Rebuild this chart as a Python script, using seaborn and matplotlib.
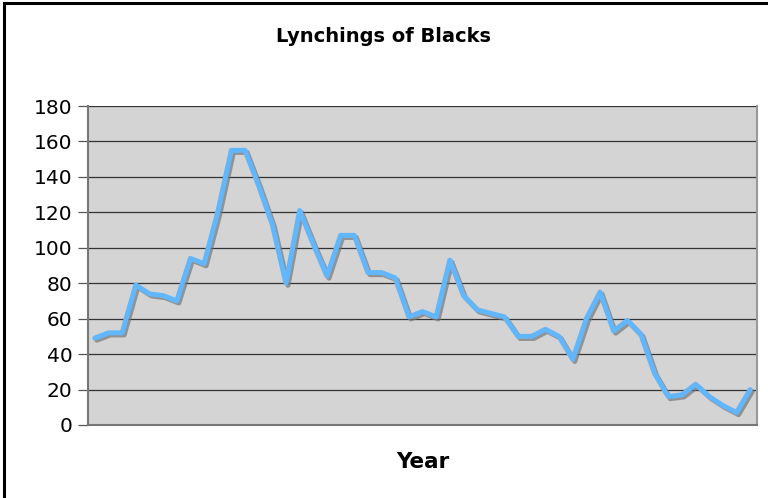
import pandas as pd
import seaborn as sns
import matplotlib.pyplot as plt
import matplotlib.patheffects as pe
from matplotlib.patches import Rectangle

# Values (one point per year, no year labels shown)
years = list(range(1882, 1931))
lynchings = [49, 52, 52, 79, 74, 73, 70, 94, 91, 120,
             155, 155, 135, 113, 80, 121, 102, 84, 107, 107,
             86, 86, 83, 61, 64, 61, 93, 73, 65, 63,
             61, 50, 50, 54, 50, 37, 60, 75, 53, 59,
             51, 29, 16, 17, 23, 16, 11, 7, 20]
y_ticks = [0, 20, 40, 60, 80, 100, 120, 140, 160, 180]

df = pd.DataFrame({"Year": years, "Lynchings": lynchings})

sns.set_style("white")
plt.rcParams['font.family'] = ['DejaVu Sans']
plt.rcParams['text.color'] = 'black'
plt.rcParams['ytick.color'] = 'black'

fig = plt.figure(figsize=(7.68, 4.98), dpi=100)
ax = fig.add_axes([88 / 768, 1 - 425 / 498, (757 - 88) / 768, (425 - 106) / 498])
ax.set_facecolor("#d4d4d4")

sns.lineplot(data=df, x="Year", y="Lynchings", ax=ax, color="#62b6fb",
             linewidth=3.6, solid_joinstyle="round",
             path_effects=[pe.SimpleLineShadow(offset=(1.5, -1.5), shadow_color="#777777", alpha=0.7),
                           pe.Normal()])

ax.set_xlim(years[0] - 0.5, years[-1] + 0.5)
ax.set_ylim(0, 180)
ax.set_yticks(y_ticks)
ax.set_xticks([])
ax.grid(axis="y", color="#333333", linewidth=0.9)
ax.set_axisbelow(True)

ax.tick_params(axis="y", left=True, length=7, width=0.9, color="#555555",
               labelsize=14.5, labelcolor="black", pad=4)
for side in ["left", "bottom"]:
    ax.spines[side].set_color("#777777")
    ax.spines[side].set_linewidth(1.5)
for side in ["top", "right"]:
    ax.spines[side].set_color("#999999")
    ax.spines[side].set_linewidth(1.5)
ax.spines["top"].set_visible(False)

ax.set_xlabel("")
ax.set_ylabel("")
fig.text(0.5, 1 - 36 / 498, "Lynchings of Blacks", ha="center", va="center",
         fontsize=14, fontweight="bold", color="black")
fig.text(423 / 768, 1 - 462 / 498, "Year", ha="center", va="center",
         fontsize=15.5, fontweight="bold", color="black")

# outer chart border (only left and top edges fall inside the image)
fig.patches.append(Rectangle((4 / 768, -0.1), 1.2, 1 - 3 / 498 + 0.1,
                             transform=fig.transFigure, fill=False,
                             edgecolor="black", linewidth=2.2))

fig.savefig("out.png", dpi=100)
